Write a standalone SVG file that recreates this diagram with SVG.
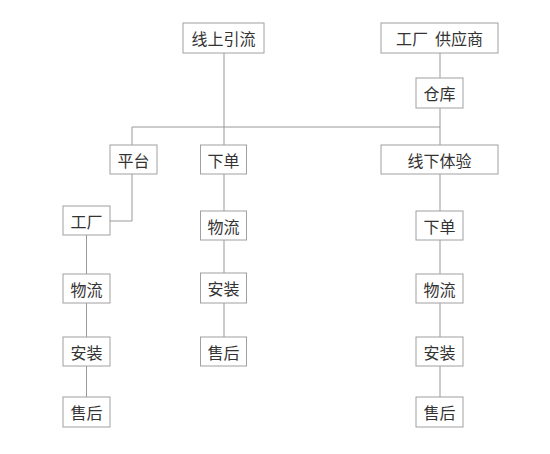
<svg xmlns="http://www.w3.org/2000/svg" width="550" height="454" viewBox="0 0 550 454">
<style>
.b{fill:#fff;stroke:#a0a0a0;stroke-width:1}
.t{font-family:"Noto Sans CJK SC","Noto Sans",sans-serif;font-size:16px;fill:#333;text-anchor:middle;dominant-baseline:central}
.c{fill:none;stroke:#999;stroke-width:1}
</style>
<rect width="550" height="454" fill="#fff"/>
<g id="connectors">
<path class="c" d="M224 53V145M132 127H440M440 53V78M440 108V145M132 127V145M132 174V221H110M224 174V211M224 240V273M224 303V337M440 174V211M440 240V274M440 303V337M440 366V397M86.5 235V274M86.5 303V337M86.5 366V397"/>
</g>
<g id="n1"><rect class="b" x="183" y="23" width="81" height="30"/><text class="t" x="223.5" y="38">线上引流</text></g>
<g id="n2"><rect class="b" x="381" y="23" width="117" height="30"/><text class="t" x="439.5" y="38">工厂&#160;&#160;供应商</text></g>
<g id="n3"><rect class="b" x="416" y="78" width="47" height="30"/><text class="t" x="439.5" y="93">仓库</text></g>
<g id="n4"><rect class="b" x="110" y="145" width="47" height="29"/><text class="t" x="133.5" y="159.5">平台</text></g>
<g id="n5"><rect class="b" x="200.5" y="145" width="46" height="29"/><text class="t" x="223.5" y="159.5">下单</text></g>
<g id="n6"><rect class="b" x="381" y="145" width="117" height="29"/><text class="t" x="439.5" y="159.5">线下体验</text></g>
<g id="n7"><rect class="b" x="63" y="206" width="47" height="29"/><text class="t" x="86.5" y="220.5">工厂</text></g>
<g id="n8"><rect class="b" x="63" y="274" width="47" height="29"/><text class="t" x="86.5" y="288.5">物流</text></g>
<g id="n9"><rect class="b" x="63" y="337" width="47" height="29"/><text class="t" x="86.5" y="351.5">安装</text></g>
<g id="n10"><rect class="b" x="63" y="397" width="47" height="30"/><text class="t" x="86.5" y="412">售后</text></g>
<g id="n11"><rect class="b" x="200.5" y="211" width="46" height="29"/><text class="t" x="223.5" y="225.5">物流</text></g>
<g id="n12"><rect class="b" x="200.5" y="273" width="46" height="30"/><text class="t" x="223.5" y="288">安装</text></g>
<g id="n13"><rect class="b" x="200.5" y="337" width="46" height="29"/><text class="t" x="223.5" y="351.5">售后</text></g>
<g id="n14"><rect class="b" x="416" y="211" width="47" height="29"/><text class="t" x="439.5" y="225.5">下单</text></g>
<g id="n15"><rect class="b" x="416" y="274" width="47" height="29"/><text class="t" x="439.5" y="288.5">物流</text></g>
<g id="n16"><rect class="b" x="416" y="337" width="47" height="29"/><text class="t" x="439.5" y="351.5">安装</text></g>
<g id="n17"><rect class="b" x="416" y="397" width="47" height="30"/><text class="t" x="439.5" y="412">售后</text></g>
</svg>
